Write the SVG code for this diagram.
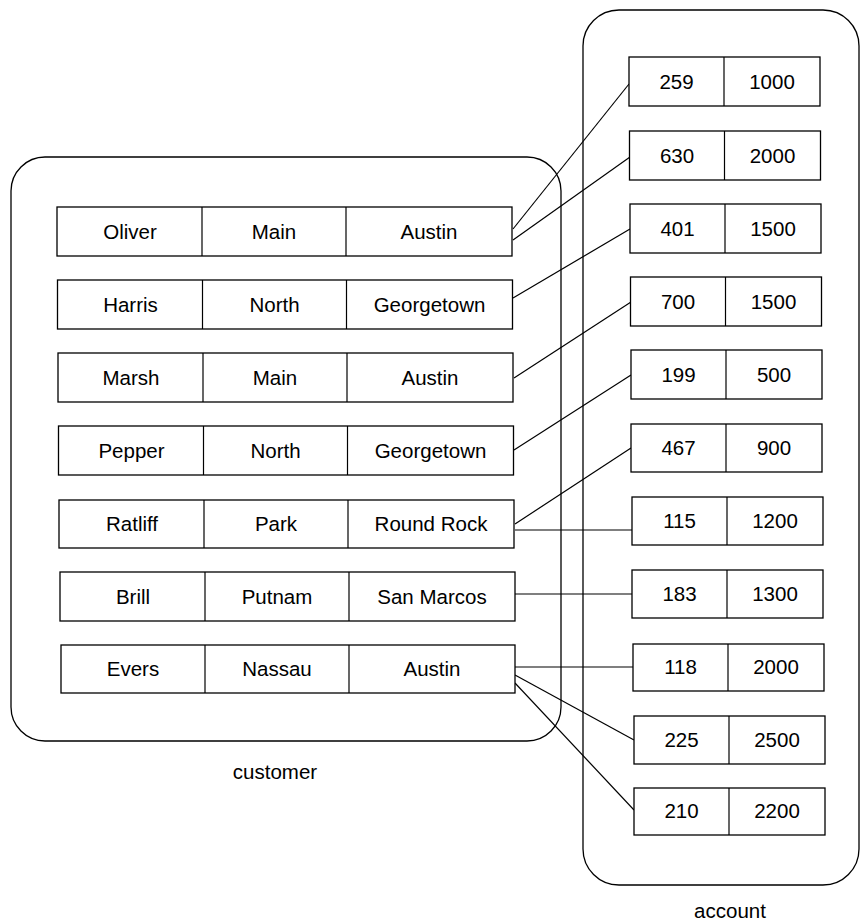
<svg xmlns="http://www.w3.org/2000/svg" width="861" height="922" viewBox="0 0 861 922">
<style>
.frame{fill:none;stroke:#000;stroke-width:1.3}
.cell{fill:#fff;stroke:#000;stroke-width:1.3}
.div{stroke:#000;stroke-width:1.2}
text{font-family:"Liberation Sans",Arial,sans-serif;font-size:20.5px;fill:#000;text-anchor:middle}
.conn line{stroke:#000;stroke-width:1.2}
</style>
<rect x="0" y="0" width="861" height="922" fill="#fff"/>
<g id="customer">
<rect class="frame" x="11" y="157" width="550" height="584" rx="34" ry="34"/>
<text x="275" y="779">customer</text>
</g>
<g id="account">
<rect class="frame" x="583" y="10" width="276" height="875" rx="36" ry="36"/>
<text x="730" y="918">account</text>
</g>
<g id="connectors" class="conn">
<line x1="513" y1="229" x2="629" y2="84"/>
<line x1="513" y1="240" x2="630" y2="157"/>
<line x1="513" y1="298" x2="630" y2="229"/>
<line x1="514" y1="378" x2="631" y2="302"/>
<line x1="514" y1="450" x2="631" y2="375"/>
<line x1="515" y1="524" x2="631" y2="448"/>
<line x1="515" y1="530" x2="632" y2="530"/>
<line x1="515" y1="594" x2="632" y2="594"/>
<line x1="515" y1="667" x2="633" y2="667"/>
<line x1="515" y1="675" x2="634" y2="740"/>
<line x1="515" y1="683" x2="634" y2="810"/>
</g>
<g id="cust-oliver" transform="translate(57,207)">
<rect class="cell" width="455" height="49"/><line class="div" x1="145" y1="0" x2="145" y2="49"/><line class="div" x1="289" y1="0" x2="289" y2="49"/>
<text x="73" y="32">Oliver</text><text x="217" y="32">Main</text><text x="372" y="32">Austin</text>
</g>
<g id="cust-harris" transform="translate(57.5,280)">
<rect class="cell" width="455" height="49"/><line class="div" x1="145" y1="0" x2="145" y2="49"/><line class="div" x1="289" y1="0" x2="289" y2="49"/>
<text x="73" y="32">Harris</text><text x="217" y="32">North</text><text x="372" y="32">Georgetown</text>
</g>
<g id="cust-marsh" transform="translate(58,353)">
<rect class="cell" width="455" height="49"/><line class="div" x1="145" y1="0" x2="145" y2="49"/><line class="div" x1="289" y1="0" x2="289" y2="49"/>
<text x="73" y="32">Marsh</text><text x="217" y="32">Main</text><text x="372" y="32">Austin</text>
</g>
<g id="cust-pepper" transform="translate(58.5,426)">
<rect class="cell" width="455" height="49"/><line class="div" x1="145" y1="0" x2="145" y2="49"/><line class="div" x1="289" y1="0" x2="289" y2="49"/>
<text x="73" y="32">Pepper</text><text x="217" y="32">North</text><text x="372" y="32">Georgetown</text>
</g>
<g id="cust-ratliff" transform="translate(59,500)">
<rect class="cell" width="455" height="48"/><line class="div" x1="145" y1="0" x2="145" y2="48"/><line class="div" x1="289" y1="0" x2="289" y2="48"/>
<text x="73" y="31">Ratliff</text><text x="217" y="31">Park</text><text x="372" y="31">Round Rock</text>
</g>
<g id="cust-brill" transform="translate(60,572)">
<rect class="cell" width="455" height="49"/><line class="div" x1="145" y1="0" x2="145" y2="49"/><line class="div" x1="289" y1="0" x2="289" y2="49"/>
<text x="73" y="32">Brill</text><text x="217" y="32">Putnam</text><text x="372" y="32">San Marcos</text>
</g>
<g id="cust-evers" transform="translate(61,645)">
<rect class="cell" width="454" height="48"/><line class="div" x1="144" y1="0" x2="144" y2="48"/><line class="div" x1="288" y1="0" x2="288" y2="48"/>
<text x="72" y="31">Evers</text><text x="216" y="31">Nassau</text><text x="371" y="31">Austin</text>
</g>
<g id="acc-259" transform="translate(629,57)">
<rect class="cell" width="191" height="49"/><line class="div" x1="95" y1="0" x2="95" y2="49"/>
<text x="47.5" y="32">259</text><text x="143" y="32">1000</text>
</g>
<g id="acc-630" transform="translate(629.5,131)">
<rect class="cell" width="191" height="49"/><line class="div" x1="95" y1="0" x2="95" y2="49"/>
<text x="47.5" y="32">630</text><text x="143" y="32">2000</text>
</g>
<g id="acc-401" transform="translate(630,204)">
<rect class="cell" width="191" height="49"/><line class="div" x1="95" y1="0" x2="95" y2="49"/>
<text x="47.5" y="32">401</text><text x="143" y="32">1500</text>
</g>
<g id="acc-700" transform="translate(630.5,277)">
<rect class="cell" width="191" height="49"/><line class="div" x1="95" y1="0" x2="95" y2="49"/>
<text x="47.5" y="32">700</text><text x="143" y="32">1500</text>
</g>
<g id="acc-199" transform="translate(631,350)">
<rect class="cell" width="191" height="49"/><line class="div" x1="95" y1="0" x2="95" y2="49"/>
<text x="47.5" y="32">199</text><text x="143" y="32">500</text>
</g>
<g id="acc-467" transform="translate(631,424)">
<rect class="cell" width="191" height="48"/><line class="div" x1="95" y1="0" x2="95" y2="48"/>
<text x="47.5" y="31">467</text><text x="143" y="31">900</text>
</g>
<g id="acc-115" transform="translate(632,497)">
<rect class="cell" width="191" height="48"/><line class="div" x1="95" y1="0" x2="95" y2="48"/>
<text x="47.5" y="31">115</text><text x="143" y="31">1200</text>
</g>
<g id="acc-183" transform="translate(632,570)">
<rect class="cell" width="191" height="48"/><line class="div" x1="95" y1="0" x2="95" y2="48"/>
<text x="47.5" y="31">183</text><text x="143" y="31">1300</text>
</g>
<g id="acc-118" transform="translate(633,644)">
<rect class="cell" width="191" height="47"/><line class="div" x1="95" y1="0" x2="95" y2="47"/>
<text x="47.5" y="30">118</text><text x="143" y="30">2000</text>
</g>
<g id="acc-225" transform="translate(634,716)">
<rect class="cell" width="191" height="48"/><line class="div" x1="95" y1="0" x2="95" y2="48"/>
<text x="47.5" y="31">225</text><text x="143" y="31">2500</text>
</g>
<g id="acc-210" transform="translate(634,788)">
<rect class="cell" width="191" height="47"/><line class="div" x1="95" y1="0" x2="95" y2="47"/>
<text x="47.5" y="30">210</text><text x="143" y="30">2200</text>
</g>
</svg>
